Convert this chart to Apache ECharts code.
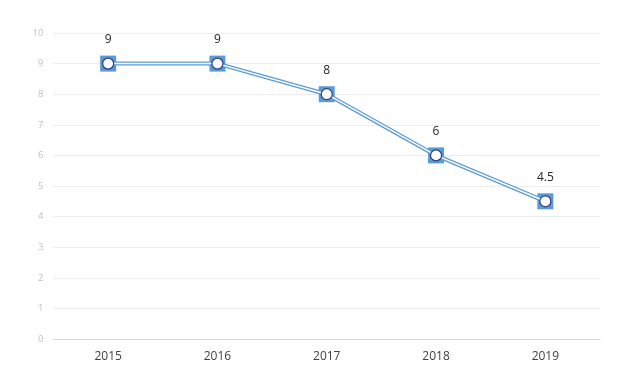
<!DOCTYPE html>
<html><head><meta charset="utf-8">
<script src="https://cdn.jsdelivr.net/npm/echarts@6/dist/echarts.min.js"></script>
<style>html,body{margin:0;padding:0;background:#fff}#c{width:632px;height:379px}</style>
</head><body><div id="c"></div>
<script>
const categories = ['2015','2016','2017','2018','2019'];
const values = [9, 9, 8, 6, 4.5];
const yTicks = [0,1,2,3,4,5,6,7,8,9,10];

const F = '"Open Sans", sans-serif';
const chart = echarts.init(document.getElementById('c'), null, {renderer:'canvas'});
chart.setOption({
  animation:false,
  backgroundColor:'#fff',
  grid:{left:53.5,right:32,top:33,bottom:40},
  xAxis:{type:'category',data:categories,boundaryGap:true,
    axisLine:{lineStyle:{color:'#d9d9d9',width:1}},
    axisTick:{show:false},
    axisLabel:{color:'#404040',fontSize:12,fontFamily:F,margin:12}},
  yAxis:{type:'value',min:yTicks[0],max:yTicks[yTicks.length-1],interval:1,
    axisLine:{show:false},axisTick:{show:false},
    axisLabel:{color:'#c0c0c0',fontSize:9.5,margin:10,fontFamily:F},
    splitLine:{lineStyle:{color:'#ececec',width:1}}},
  series:[
    {type:'line',data:values,symbol:'rect',symbolSize:16,
      itemStyle:{color:'#5b9bd5'},
      lineStyle:{color:'#5b9bd5',width:4},z:2},
    {type:'line',data:values,symbol:'circle',symbolSize:11,
      itemStyle:{color:'#ffffff',borderColor:'#2e3a87',borderWidth:1.2},
      lineStyle:{color:'#ffffff',width:1.5},z:3,
      label:{show:true,position:'top',distance:12,color:'#262626',fontSize:12,fontFamily:F}}
  ]
});
</script></body></html>
